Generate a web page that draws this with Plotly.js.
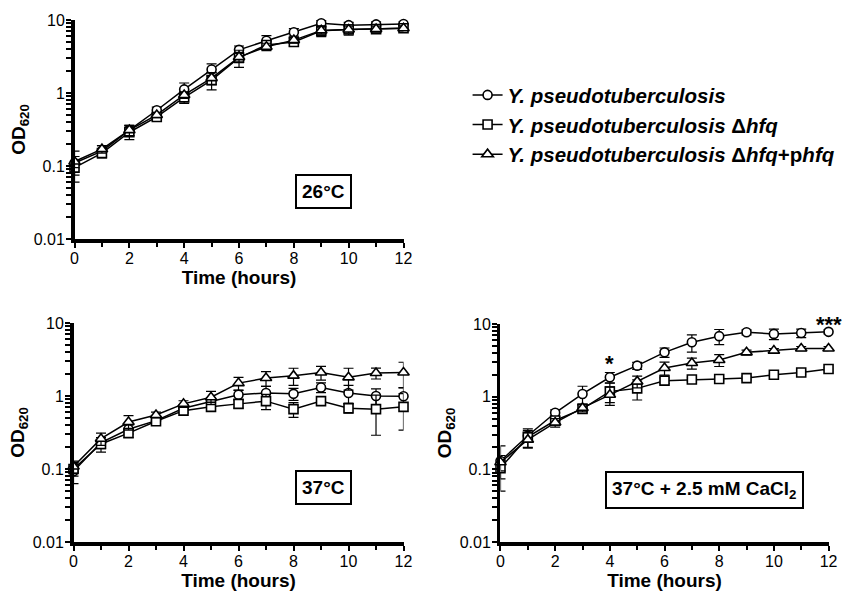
<!DOCTYPE html>
<html>
<head>
<meta charset="utf-8">
<script src="https://cdn.plot.ly/plotly-3.0.1.min.js"></script>
<style>html,body{margin:0;padding:0;background:#fff;overflow:hidden;}#chart{width:844px;height:591px;}</style>
</head>
<body>
<div id="chart"></div>
<script>
// ---------- data ----------
const hours = [0,1,2,3,4,5,6,7,8,9,10,11,12];
const seriesNames = [
  '<b><i>Y. pseudotuberculosis</i></b>',
  '<b><i>Y. pseudotuberculosis</i> Δ<i>hfq</i></b>',
  '<b><i>Y. pseudotuberculosis</i> Δ<i>hfq</i>+p<i>hfq</i></b>'
];
const panelLabels = ['26°C', '37°C', '37°C + 2.5 mM CaCl<sub>2</sub>'];
const yDecades = [0.01, 0.1, 1, 10];
const yDecadeText = ['0.01', '0.1', '1', '10'];
const xTitle = 'Time (hours)';
const yTitle = 'OD<sub>620</sub>';

// 26 °C
const wt26   = [0.11, 0.16, 0.31, 0.58, 1.12, 2.1, 3.9, 5.2, 6.8, 9.0, 8.5, 8.7, 8.8];
const hfq26  = [0.095,0.15, 0.29, 0.47, 0.87, 1.5, 3.05,4.55,5.0, 7.1, 7.4, 7.5, 7.7];
const comp26 = [0.115,0.17, 0.31, 0.50, 0.94, 1.6, 3.1, 4.3, 5.3, 7.2, 7.4, 7.5, 7.7];
const wt26Err   = [0.05, 0.03, 0.05, 0.06, 0.25, 0.4, 0.5, 0.9, 0.8, 0.8, 0.8, 0.7, 0.6];
const hfq26Err  = [0.02, 0.02, 0.06, 0.05, 0.15, 0.4, 0.8, 0.6, 0.6, 1.2, 1.2, 0.9, 0.8];
const comp26Err = [0.02, 0.02, 0.05, 0.04, 0.10, 0.3, 0.5, 0.5, 0.5, 0.8, 0.8, 0.7, 0.6];

// 37 °C
const wt37   = [0.093,0.23, 0.35, 0.46, 0.68, 0.85, 1.04, 1.1, 1.07, 1.31, 1.1, 1.0, 0.99];
const hfq37  = [0.10, 0.22, 0.31, 0.45, 0.63, 0.71, 0.78, 0.85, 0.66, 0.85, 0.68, 0.66, 0.71];
const comp37 = [0.108,0.26, 0.44, 0.55, 0.78, 0.96, 1.5, 1.76, 1.9, 2.1, 1.8, 2.06, 2.1];
const wt37Err   = [0.03, 0.04, 0.05, 0.05, 0.08, 0.10, 0.15, 0.25, 0.20, 0.20, 0.30, 0.25, 0.30];
const hfq37Err  = [0.02, 0.05, 0.04, 0.04, 0.05, 0.08, 0.10, 0.20, 0.15, 0.10, 0.10, 0.37, 0.37];
const comp37Err = [0.02, 0.05, 0.10, 0.05, 0.08, 0.20, 0.30, 0.40, 0.50, 0.45, 0.60, 0.35, 0.80];

// 37 °C + 2.5 mM CaCl2
const wtCa   = [0.13, 0.29, 0.60, 1.09, 1.85, 2.67, 4.07, 5.6, 6.8, 7.7, 7.3, 7.5, 7.8];
const hfqCa  = [0.104,0.28, 0.47, 0.68, 1.18, 1.30, 1.66, 1.72,1.75,1.80,2.0, 2.15,2.4];
const compCa = [0.125,0.256,0.44, 0.70, 1.06, 1.62, 2.48, 2.9, 3.2, 4.07,4.3, 4.6, 4.6];
const wtCaErr   = [0.08, 0.05, 0.06, 0.30, 0.30, 0.30, 0.60, 1.50, 1.60, 0.60, 1.20, 1.00, 0.50];
const hfqCaErr  = [0.03, 0.08, 0.06, 0.08, 0.35, 0.40, 0.15, 0.10, 0.10, 0.10, 0.10, 0.10, 0.10];
const compCaErr = [0.03, 0.06, 0.06, 0.08, 0.30, 0.30, 0.50, 0.50, 0.60, 0.30, 0.30, 0.30, 0.30];

const significance = [{x: 4, text: '*'}, {x: 12, text: '***'}];

// ---------- build ----------
const FONT = '"Liberation Sans", Arial, Helvetica, sans-serif';
const symbols = ['circle', 'square', 'triangle-up'];
const sizes = [9, 9, 10];
const panels = [
  {xa: 'x',  ya: 'y',  data: [[wt26, wt26Err], [hfq26, hfq26Err], [comp26, comp26Err]]},
  {xa: 'x2', ya: 'y2', data: [[wt37, wt37Err], [hfq37, hfq37Err], [comp37, comp37Err]]},
  {xa: 'x3', ya: 'y3', data: [[wtCa, wtCaErr], [hfqCa, hfqCaErr], [compCa, compCaErr]]}
];

// log-axis ticks: labelled decades plus unlabelled 2..9 ticks inside each decade
const yTickVals = [], yTickText = [];
yDecades.forEach((dec, i) => {
  yTickVals.push(dec); yTickText.push(yDecadeText[i]);
  if (i < yDecades.length - 1) {
    for (let k = 2; k <= 9; k++) { yTickVals.push(+(dec * k).toPrecision(3)); yTickText.push(''); }
  }
});

const traces = [];
panels.forEach((p, pi) => {
  p.data.forEach((d, si) => {
    traces.push({
      type: 'scatter', mode: 'lines+markers',
      x: hours, y: d[0],
      xaxis: p.xa, yaxis: p.ya,
      name: seriesNames[si],
      legendgroup: 'g' + si,
      showlegend: pi === 0,
      cliponaxis: false,
      line: {color: '#000', width: 1.5},
      marker: {symbol: symbols[si], size: sizes[si], color: '#fff', line: {color: '#000', width: 1.6}},
      error_y: {type: 'data', array: d[1], visible: true, color: '#000', thickness: 1.2, width: 5}
    });
  });
});

function xAxis(domain, anchor) {
  return {
    domain: domain, anchor: anchor, range: [0, 12], dtick: 2, tick0: 0,
    showline: true, linewidth: 3.5, linecolor: '#000', mirror: false,
    showgrid: false, zeroline: false,
    ticks: 'outside', ticklen: 5, tickwidth: 2, tickcolor: '#000',
    ticklabelstandoff: -3,
    minor: {ticks: 'outside', dtick: 1, ticklen: 4, tickwidth: 2, tickcolor: '#000', showgrid: false},
    tickfont: {family: FONT, size: 16, color: '#000'},
    title: {text: '<b>' + xTitle + '</b>', font: {family: FONT, size: 19, color: '#000'}, standoff: 1}
  };
}
function yAxis(domain, anchor) {
  return {
    domain: domain, anchor: anchor, type: 'log', range: [-2, 1],
    tickmode: 'array', tickvals: yTickVals, ticktext: yTickText,
    showline: true, linewidth: 3.5, linecolor: '#000',
    showgrid: false, zeroline: false,
    ticks: 'outside', ticklen: 5, tickwidth: 2, tickcolor: '#000',
    ticklabelstandoff: -2,
    tickfont: {family: FONT, size: 16, color: '#000'},
    title: {text: '<b>OD</b><sub><b>620</b></sub>', font: {family: FONT, size: 19, color: '#000'}, standoff: 4}
  };
}

const labelBox = (text, xref, yref, x, y) => ({
  text: '<b>' + text + '</b>', xref: xref, yref: yref, x: x, y: y,
  xanchor: 'center', yanchor: 'middle',
  showarrow: false, font: {family: FONT, size: 19, color: '#000'},
  bordercolor: '#000', borderwidth: 2, borderpad: 5, bgcolor: '#fff'
});

const annotations = [
  labelBox(panelLabels[0], 'x domain', 'y domain', 0.758, 0.217),
  labelBox(panelLabels[1], 'x2 domain', 'y2 domain', 0.759, 0.247),
  labelBox(panelLabels[2], 'x3 domain', 'y3 domain', 0.623, 0.239)
];
const sigY = [0.82, 0.996];
significance.forEach((s, i) => {
  annotations.push({
    text: '<b>' + s.text + '</b>', xref: 'x3', yref: 'y3 domain', x: s.x, y: sigY[i],
    xanchor: 'center', yanchor: 'middle',
    showarrow: false, font: {family: FONT, size: 22, color: '#000'}
  });
});

const layout = {
  width: 844, height: 591,
  margin: {l: 0, r: 0, t: 0, b: 0},
  paper_bgcolor: '#fff', plot_bgcolor: '#fff',
  font: {family: FONT, color: '#000'},
  xaxis: xAxis([0.0883, 0.4781], 'y'),
  yaxis: yAxis([0.5956, 0.9662], 'x'),
  xaxis2: xAxis([0.0871, 0.4781], 'y2'),
  yaxis2: yAxis([0.0829, 0.4535], 'x2'),
  xaxis3: xAxis([0.5930, 0.9817], 'y3'),
  yaxis3: yAxis([0.0829, 0.4518], 'x3'),
  showlegend: true,
  legend: {
    x: 0.554, y: 0.873, xanchor: 'left', yanchor: 'top',
    font: {family: FONT, size: 20.5, color: '#000'},
    itemwidth: 30, traceorder: 'normal',
    bgcolor: 'rgba(0,0,0,0)'
  },
  annotations: annotations
};

Plotly.newPlot('chart', traces, layout, {displayModeBar: false, staticPlot: true});
</script>
</body>
</html>
